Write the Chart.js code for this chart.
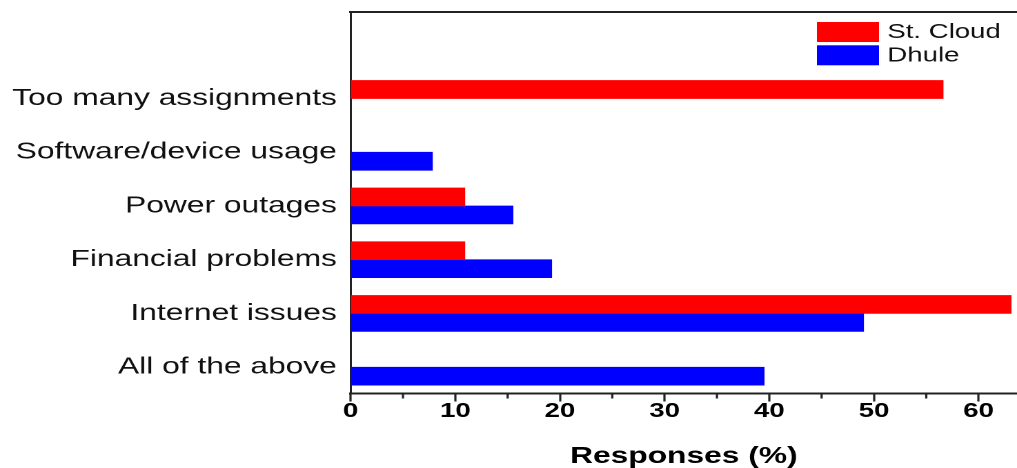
<!DOCTYPE html>
<html>
<head>
<meta charset="utf-8">
<script src="https://cdn.jsdelivr.net/npm/chart.js@4"></script>
<style>
  html, body { margin: 0; padding: 0; background: #fff; overflow: hidden; }
  /* the source figure is stretched sideways, so the whole canvas is too */
  #wrap { width: 737px; height: 468px; transform: scaleX(1.37992); transform-origin: 0 0; }
</style>
</head>
<body>
<div id="wrap"><canvas id="chart"></canvas></div>
<script>
/* values (%) */
var categories = ['Too many assignments', 'Software/device usage', 'Power outages',
                  'Financial problems', 'Internet issues', 'All of the above'];
var stCloud = [56.6, null, 10.9, 10.9, 63.1, null];
var dhule = [null, 7.8, 15.5, 19.2, 49.0, 39.5];
var seriesNames = ['St. Cloud', 'Dhule'];
var xMax = 63.67;

Chart.defaults.font.family = '"Liberation Sans", Arial, sans-serif';
Chart.defaults.color = '#111';

/* short ticks half way between the labelled ones */
const minorTicks = {
  id: 'minorTicks',
  afterDraw(chart) {
    const s = chart.scales.x, ctx = chart.ctx;
    ctx.save();
    ctx.strokeStyle = '#222';
    ctx.lineWidth = 1.6;
    for (let v = 5; v < s.max; v += 10) {
      const px = s.getPixelForValue(v);
      ctx.beginPath();
      ctx.moveTo(px, s.top);
      ctx.lineTo(px, s.top + 5);
      ctx.stroke();
    }
    ctx.restore();
  }
};

/* legend stacked inside the plot, top right */
const boxLegend = {
  id: 'boxLegend',
  afterDraw(chart) {
    const {ctx, chartArea} = chart;
    ctx.save();
    ctx.font = '20px "Liberation Sans", Arial, sans-serif';
    ctx.textBaseline = 'middle';
    chart.data.datasets.forEach((ds, i) => {
      const x = chartArea.right - 145;
      const y = chartArea.top + 10 + i * 23.3;
      ctx.fillStyle = ds.backgroundColor;
      ctx.fillRect(x, y, 45, 20);
      ctx.fillStyle = '#111';
      ctx.fillText(ds.label, x + 51, y + 10.5);
    });
    ctx.restore();
  }
};

const ctx = document.getElementById('chart');

new Chart(ctx, {
  type: 'bar',
  data: {
    datasets: [{
      label: seriesNames[0],
      data: stCloud.map((v, i) => ({x: v, y: i})),
      backgroundColor: '#ff0000',
      borderWidth: 0,
      barThickness: 18
    }, {
      label: seriesNames[1],
      data: dhule.map((v, i) => ({x: v, y: i})),
      backgroundColor: '#0000ff',
      borderWidth: 0,
      barThickness: 18
    }]
  },
  options: {
    indexAxis: 'y',
    responsive: true,
    maintainAspectRatio: false,
    animation: false,
    devicePixelRatio: 2,
    events: [],
    layout: {padding: 0},
    plugins: {legend: {display: false}, tooltip: {enabled: false}},
    scales: {
      x: {
        type: 'linear',
        position: 'bottom',
        min: 0,
        max: xMax,
        grid: {display: true, drawOnChartArea: false, drawTicks: true, tickLength: 8, tickWidth: 1.6, tickColor: '#222'},
        border: {display: true, color: '#222', width: 2},
        ticks: {stepSize: 10, includeBounds: false, padding: 0, maxRotation: 0, autoSkip: false,
                color: '#000', font: {size: 20, weight: 'bold', lineHeight: 1}},
        title: {display: true, text: 'Responses (%)', padding: 0, color: '#000',
                font: {size: 23, weight: 'bold', lineHeight: 1}},
        afterFit: s => { s.height = 74.5; }
      },
      x2: {
        type: 'linear',
        position: 'top',
        grid: {display: false, drawTicks: false},
        border: {display: true, color: '#222', width: 2},
        ticks: {display: false},
        afterFit: s => { s.height = 12; s.paddingLeft = 0; s.paddingRight = 0; }
      },
      y: {
        type: 'linear',
        reverse: true,
        offset: false,
        min: -1.61,
        max: 5.49,
        grid: {display: false, drawTicks: false, offset: false},
        border: {display: true, color: '#222', width: 1.5},
        ticks: {padding: 10, autoSkip: false, font: {size: 23}, callback: v => categories[v]},
        afterBuildTicks: s => { s.ticks = categories.map((c, i) => ({value: i})); },
        afterFit: s => { s.width = 254.1; s.paddingTop = 0; s.paddingBottom = 0; }
      }
    }
  },
  plugins: [minorTicks, boxLegend]
});
</script>
</body>
</html>
